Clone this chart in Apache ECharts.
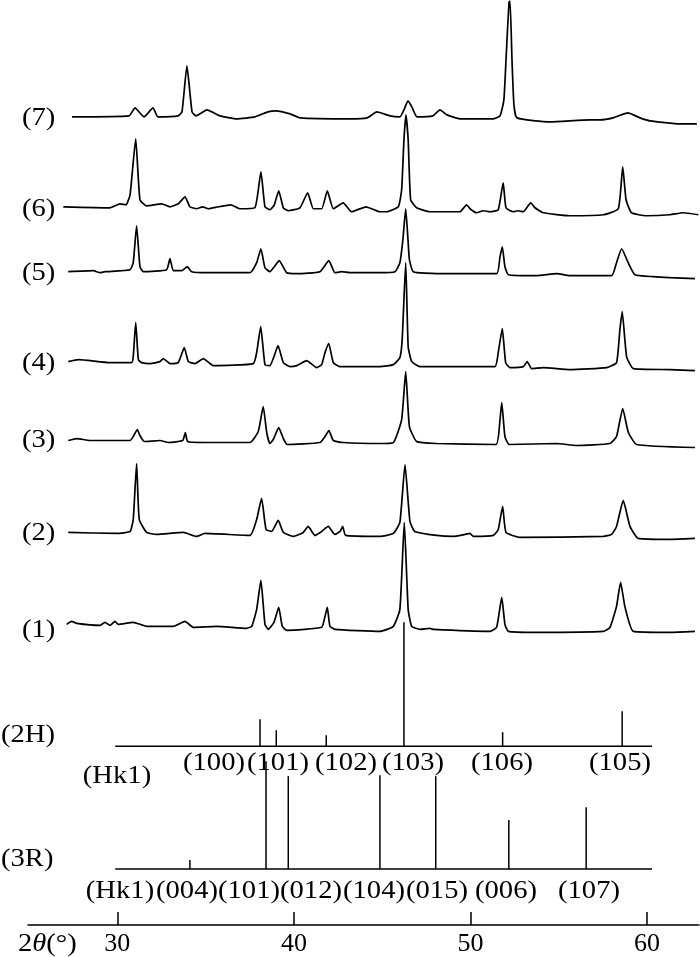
<!DOCTYPE html>
<html lang="en">
<head>
    <meta charset="UTF-8">
    <title>XRD patterns</title>
    <script src="https://cdn.jsdelivr.net/npm/echarts@6/dist/echarts.min.js"></script>
</head>
<body style="margin: 0;">
    <div id="main" style="width: 700px; height: 957px;"></div>
<script>
// each trace: [2theta, intensity above its own baseline]
var trace1 = [[27.13,5],[27.41,8],[27.70,6],[29.02,4],[29.30,7],[29.58,4],[29.87,8],[30.05,5],[30.90,7],[31.66,3],[33.17,3],[33.83,8],[34.30,2],[35.62,3],[37.32,1],[37.61,3],[37.89,20],[38.13,49],[38.36,5],[38.55,0],[38.87,7],[39.14,22],[39.34,3],[39.59,-1],[41.57,2],[41.76,13],[41.89,22],[42.04,3],[42.32,0],[44.87,-2],[45.63,3],[46.0,20],[46.25,107],[46.47,20],[46.67,3],[47.14,0],[47.70,1],[47.89,0],[51.10,-2],[51.48,2],[51.77,32],[51.95,5],[52.14,-2],[53.75,-3],[57.52,-2],[57.90,2],[58.27,23],[58.50,47],[58.74,23],[59.22,-2],[61.29,-3],[62.71,-2]];
var trace2 = [[27.22,0],[29.96,-1],[30.72,1],[30.90,13],[31.09,69],[31.24,13],[31.66,0],[32.22,-2],[33.73,0],[34.49,-4],[34.96,-1],[37.51,-3],[37.89,13],[38.17,34],[38.42,3],[38.74,1],[39.11,12],[39.40,0],[39.96,-4],[40.53,0],[40.81,6],[41.19,-3],[41.57,1],[41.94,6],[42.32,-2],[42.61,1],[42.76,6],[42.93,-3],[44.87,-4],[45.63,-1],[46.0,10],[46.29,68],[46.57,11],[46.85,1],[48.08,-3],[49.02,-4],[49.68,-2],[49.97,-1],[50.16,-4],[51.29,-3],[51.57,3],[51.82,26],[52.01,0],[52.80,-5],[57.52,-4],[57.99,-2],[58.27,6],[58.65,32],[59.03,6],[59.50,-6],[61.29,-7],[62.71,-6]];
var trace3 = [[27.22,-1],[27.70,1],[28.45,-1],[30.72,-1],[30.90,3],[31.13,10],[31.28,4],[31.53,-2],[32.41,-1],[32.89,-3],[33.70,-1],[33.85,7],[33.98,-2],[34.87,-3],[37.51,-3],[37.98,8],[38.26,33],[38.46,7],[38.64,-4],[38.83,0],[39.14,12],[39.40,1],[39.62,-5],[41.47,-3],[41.76,3],[41.98,9],[42.23,-1],[42.79,-3],[44.87,-4],[45.63,-3],[46.10,20],[46.33,68],[46.54,13],[46.95,-2],[48.08,-4],[51.44,-5],[51.67,20],[51.77,37],[51.95,3],[52.20,-5],[54.88,-4],[56.01,-6],[57.90,-4],[58.27,3],[58.62,31],[58.94,7],[59.41,-5],[62.71,-8]];
var trace4 = [[27.22,1],[27.79,3],[29.58,0],[30.81,0],[30.90,6],[31.04,40],[31.19,3],[31.38,0],[31.85,-1],[32.41,1],[32.60,4],[32.98,-1],[33.45,0],[33.79,15],[34.02,1],[34.40,-1],[34.87,4],[35.43,-3],[37.70,-1],[37.89,10],[38.12,36],[38.36,-2],[38.64,-3],[38.87,6],[39.10,17],[39.40,0],[39.78,-4],[40.16,-3],[40.72,2],[41.29,-5],[41.57,-2],[41.76,10],[41.97,19],[42.23,0],[42.61,-4],[44.87,-4],[45.63,-2],[46.0,5],[46.13,23],[46.33,100],[46.47,16],[46.67,1],[47.14,-4],[51.38,-4],[51.57,10],[51.80,34],[51.99,0],[52.23,-5],[52.99,-4],[53.21,1],[53.46,-6],[54.12,-5],[55.63,-7],[57.71,-5],[58.27,0],[58.46,33],[58.59,51],[58.84,6],[59.22,-6],[61.29,-7],[62.71,-8]];
var trace5 = [[27.22,0],[28.64,1],[29.02,-1],[29.30,0],[30.72,2],[30.90,9],[31.09,46],[31.28,5],[31.47,0],[32.79,2],[32.98,13],[33.17,1],[33.64,1],[33.96,5],[34.21,0],[35.06,-1],[37.51,-1],[37.89,9],[38.13,23],[38.36,4],[38.64,0],[38.93,6],[39.17,11],[39.59,-1],[40.16,-2],[41.47,0],[41.98,11],[42.32,-1],[42.70,0],[43.17,-1],[44.87,-1],[45.72,0],[46.0,9],[46.17,32],[46.33,63],[46.46,32],[46.54,12],[46.76,0],[48.08,-2],[51.48,-2],[51.67,15],[51.80,25],[51.95,5],[52.14,-3],[53.75,-4],[54.88,-2],[55.63,-4],[57.99,-4],[58.27,9],[58.56,23],[58.93,9],[59.31,-3],[60.35,-5],[61.29,-6],[62.71,-7]];
var trace6 = [[26.94,1],[29.58,0],[30.15,4],[30.49,3],[30.72,13],[31.04,69],[31.28,8],[31.66,2],[32.51,4],[32.98,1],[33.45,4],[33.83,11],[34.11,1],[34.49,-1],[34.83,1],[35.15,-1],[35.72,1],[36.43,3],[36.94,-1],[37.79,0],[38.13,36],[38.36,1],[38.64,-2],[38.89,3],[39.14,17],[39.40,0],[39.68,-3],[40.34,0],[40.78,15],[41.10,-1],[41.57,-1],[41.89,17],[42.23,-1],[42.79,5],[43.27,-4],[44.08,1],[44.87,-4],[45.25,-4],[45.91,1],[46.10,18],[46.23,68],[46.34,93],[46.47,68],[46.61,8],[46.95,0],[47.70,-4],[49.40,-4],[49.78,3],[49.97,-1],[50.35,-5],[50.72,-3],[51.10,-4],[51.57,-2],[51.85,25],[52.01,0],[52.42,-4],[52.70,-3],[52.99,-4],[53.41,5],[53.65,0],[54.12,-5],[55.63,-8],[57.52,-7],[58.37,-1],[58.62,41],[58.81,8],[59.12,-5],[59.97,-8],[61.29,-7],[62.05,-5],[62.90,-7]];
var trace7 = [[27.43,0],[30.66,1],[31.0,9],[31.51,0],[32.02,9],[32.30,0],[33.43,1],[33.66,5],[33.94,51],[34.23,5],[34.45,1],[35.08,7],[35.81,1],[36.77,-2],[37.79,0],[38.53,5],[38.98,6],[39.78,3],[40.34,-1],[43.17,-2],[44.14,-1],[44.70,5],[45.44,1],[46.0,0],[46.23,7],[46.46,16],[46.68,10],[46.97,0],[47.87,1],[48.27,7],[48.67,2],[49.40,-2],[51.27,-2],[51.67,1],[51.89,17],[52.01,57],[52.18,115],[52.24,116],[52.35,57],[52.46,12],[52.63,-1],[54.50,-5],[56.76,-3],[57.33,-3],[58.07,-1],[58.92,4],[59.6,-1],[60.16,-4],[61.86,-7],[62.82,-7]];

var traceNames = ['(1)', '(2)', '(3)', '(4)', '(5)', '(6)', '(7)'];
var traceOffsets = [296, 393, 486, 563, 654, 718, 809];

// reference patterns: [2theta, relative height]
var sticks2H = [[38.08,27],[39.00,16],[41.83,11],[46.23,124],[51.82,14],[58.59,35]];
var hkl2H = ['(100)', '(101)', '(102)', '(103)', '(106)', '(105)'];
var sticks3R = [[34.11,9],[38.42,108],[39.68,93],[44.87,94],[48.03,93],[52.17,49],[56.55,62]];
var hkl3R = ['(004)', '(101)', '(012)', '(104)', '(015)', '(006)', '(107)'];
var refRange = [29.88, 60.28];
var refOffsets = [179, 56];

var xTicks = [30, 40, 50, 60];

var FONT = "'Liberation Serif', 'Times New Roman', serif";
var chart = echarts.init(document.getElementById('main'));

var traces = [trace1, trace2, trace3, trace4, trace5, trace6, trace7];
var series = traces.map(function (t, i) {
    return {
        type: 'line',
        name: traceNames[i],
        showSymbol: false,
        silent: true,
        clip: false,
        smooth: 0.15,
        lineStyle: { color: '#000', width: 1.7 },
        data: t.map(function (p) { return [p[0], traceOffsets[i] + p[1]]; })
    };
});

// 2H and 3R baselines
refOffsets.forEach(function (off) {
    series.push({
        type: 'line',
        showSymbol: false,
        silent: true,
        lineStyle: { color: '#000', width: 1.5 },
        data: [[refRange[0], off], [refRange[1], off]]
    });
});

function stickItem(params, api) {
    var a = api.coord([api.value(0), api.value(1)]);
    var b = api.coord([api.value(0), api.value(1) + api.value(2)]);
    return {
        type: 'line',
        shape: { x1: a[0], y1: a[1], x2: b[0], y2: b[1] },
        style: { stroke: '#000', lineWidth: 1.5 }
    };
}
[sticks2H, sticks3R].forEach(function (s, k) {
    series.push({
        type: 'custom',
        silent: true,
        renderItem: stickItem,
        data: s.map(function (p) { return [p[0], refOffsets[k], p[1]]; })
    });
});

chart.setOption({
    animation: false,
    backgroundColor: '#fff',
    grid: { left: 28, right: 1, top: 0, bottom: 31 },
    xAxis: {
        type: 'value',
        min: 24.94,
        max: 62.94,
        axisLine: { onZero: false, lineStyle: { color: '#000', width: 1.5 } },
        axisTick: { inside: true, length: 13, customValues: xTicks, lineStyle: { color: '#000', width: 1.5 } },
        axisLabel: { customValues: xTicks, margin: 6, color: '#000', fontSize: 26, fontFamily: FONT },
        splitLine: { show: false }
    },
    yAxis: { type: 'value', min: 0, max: 926, show: false },
    series: series
});

function label(text, x, y, align) {
    return {
        type: 'text', x: x, y: y, scaleX: 1.1, silent: true,
        style: { text: text, fill: '#000', fontSize: 26, fontFamily: FONT,
                 align: align || 'center', verticalAlign: 'middle' }
    };
}

var graphics = [];
traceOffsets.forEach(function (off, i) {
    var p = chart.convertToPixel({ gridIndex: 0 }, [30, off]);
    graphics.push(label(traceNames[i], 22, p[1] + 1, 'left'));
});
var y2H = chart.convertToPixel({ gridIndex: 0 }, [30, refOffsets[0]])[1];
var y3R = chart.convertToPixel({ gridIndex: 0 }, [30, refOffsets[1]])[1];
graphics.push(label('(2H)', 1, y2H - 11, 'left'));
graphics.push(label('(3R)', 1, y3R - 10, 'left'));
graphics.push(label('(Hk1)', 117, y2H + 30));
[214, 278, 346, 413, 502, 620].forEach(function (x, i) {
    graphics.push(label(hkl2H[i], x, y2H + 17));
});
graphics.push(label('(Hk1)', 120, y3R + 22));
[187, 249, 311, 374, 437, 506, 589].forEach(function (x, i) {
    graphics.push(label(hkl3R[i], x, y3R + 22));
});
graphics.push({
    type: 'text', x: 18, y: 944, scaleX: 1.1, silent: true,
    style: {
        text: '2{i|θ}(°)', fill: '#000', fontSize: 26, fontFamily: FONT, verticalAlign: 'middle',
        rich: { i: { fontStyle: 'italic', fontSize: 26, fontFamily: FONT } }
    }
});
chart.setOption({ graphic: graphics });
</script>
</body>
</html>
